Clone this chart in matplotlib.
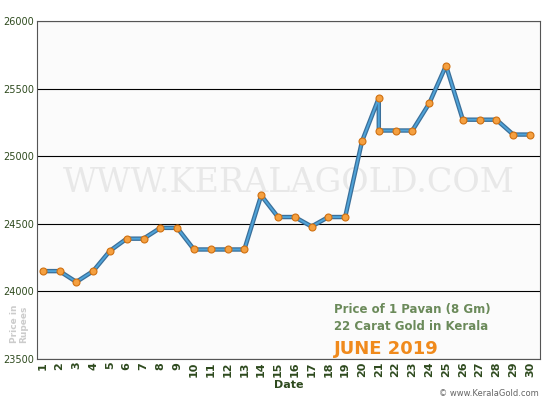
import matplotlib
matplotlib.use("Agg")
import matplotlib.pyplot as plt

days = [1,2,3,4,5,6,7,8,9,10,11,12,13,14,15,16,17,18,19,20,21,21,22,23,24,25,26,27,28,29,30]
prices = [24150,24150,24070,24150,24300,24390,24390,24470,24470,24310,24310,24310,24310,24710,
          24550,24550,24480,24550,24550,25110,25430,25190,25190,25190,25390,25670,25270,25270,
          25270,25160,25160]
yticks = [23500,24000,24500,25000,25500,26000]

fig = plt.figure(figsize=(5.5,4), dpi=100)
ax = fig.add_axes([0.067,0.1025,0.915,0.845])
ax.set_facecolor("#fbfbfb")
ax.plot(days, prices, color="#3a6f9a", lw=3.2, zorder=2)
ax.plot(days, prices, color="#4fa3d8", lw=1.4, zorder=3)
ax.plot(days, prices, 'o', ms=5, mfc="#f5a040", mec="#d07010", mew=0.8, zorder=4)
ax.set_ylim(23500,26000)
ax.set_xlim(0.65,30.6)
ax.set_yticks(yticks)
ax.set_xticks(range(1,31))
ax.set_xticklabels([str(d) for d in range(1,31)], rotation=90, fontsize=8, fontweight='bold', color="#2e4a1e")
ax.set_yticklabels([str(v) for v in yticks], fontsize=7, color="#2e4a1e")
ax.grid(axis='y', color='black', lw=0.8)
ax.set_axisbelow(True)
for s in ax.spines.values():
    s.set_color("#555555")
ax.tick_params(length=0, pad=2)
ax.set_xlabel("Date", fontsize=8, fontweight='bold', color="#2e4a1e", labelpad=2)
fig.text(0.035,0.19,"Price in\nRupees", rotation=90, fontsize=6.5, fontweight='bold', color="#cccccc",
         ha='center', va='center', linespacing=1.0)
ax.text(0.5,0.52,"WWW.KERALAGOLD.COM", transform=ax.transAxes, fontsize=24, color="#e8e8e8",
        ha='center', va='center', family='DejaVu Serif', zorder=1)
ax.text(0.59,0.135,"Price of 1 Pavan (8 Gm)", transform=ax.transAxes, fontsize=8.5, fontweight='bold', color="#6b8a5a")
ax.text(0.59,0.085,"22 Carat Gold in Kerala", transform=ax.transAxes, fontsize=8.5, fontweight='bold', color="#6b8a5a")
ax.text(0.59,0.015,"JUNE 2019", transform=ax.transAxes, fontsize=13, fontweight='bold', color="#f08a1c")
fig.text(0.98,0.01,"© www.KeralaGold.com", fontsize=6, color="#666666", ha='right')
fig.savefig("out.png", dpi=100)
